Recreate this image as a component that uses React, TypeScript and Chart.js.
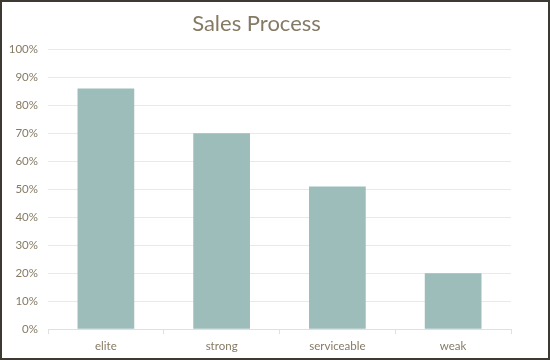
import React, { useEffect, useRef } from "react";
import { Chart, registerables } from "chart.js";

Chart.register(...registerables);

const categories = ["elite", "strong", "serviceable", "weak"];
const values = [86, 70, 51, 20];
const titleText = "Sales Process";

export default function App() {
  const ref = useRef<HTMLCanvasElement | null>(null);

  useEffect(() => {
    document.body.style.margin = "0";
    if (!ref.current) return;
    const chart = new Chart(ref.current, {
      type: "bar",
      data: {
        labels: categories,
        datasets: [
          {
            data: values,
            backgroundColor: "#9dbdbb",
            borderWidth: 0,
            categoryPercentage: 1,
            barPercentage: 0.49,
          },
        ],
      },
      options: {
        responsive: false,
        animation: false,
        layout: { padding: { left: 0, right: 37, top: 4, bottom: 0 } },
        plugins: {
          legend: { display: false },
          tooltip: { enabled: false },
          title: {
            display: true,
            text: titleText,
            color: "#857b64",
            font: { family: "Lato", size: 22, weight: "normal" },
            padding: { top: 5, bottom: 12 },
          },
        },
        scales: {
          x: {
            offset: true,
            grid: {
              offset: true,
              drawOnChartArea: false,
              color: "#e2e0da",
              tickLength: 5,
            },
            border: { color: "#e2e0da" },
            ticks: {
              color: "#857b64",
              font: { family: "Lato", size: 11.5 },
              padding: 5,
            },
          },
          y: {
            min: 0,
            max: 100,
            afterFit: (scale: any) => {
              scale.width = 46;
            },
            grid: { color: "#ebe9e3", drawTicks: false },
            border: { display: false },
            ticks: {
              stepSize: 10,
              color: "#857b64",
              font: { family: "Lato", size: 11.5 },
              padding: 10,
              callback: (v: any) => v + "%",
            },
          },
        },
      },
    });
    return () => chart.destroy();
  }, []);

  return (
    <div
      style={{
        width: 550,
        height: 360,
        border: "2px solid #3c3a33",
        boxSizing: "border-box",
        background: "#fff",
      }}
    >
      <canvas ref={ref} width={546} height={356} style={{ display: "block" }} />
    </div>
  );
}
